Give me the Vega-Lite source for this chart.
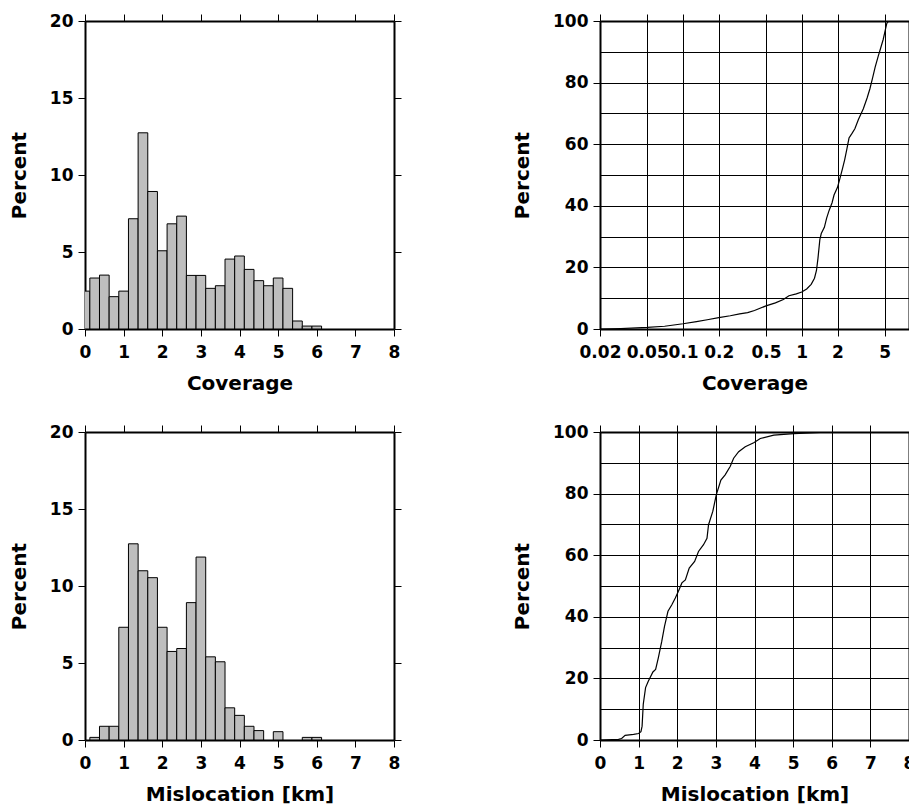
{
  "$schema": "https://vega.github.io/schema/vega-lite/v6.json",
  "background": "white",
  "padding": {"left": 9, "top": 12, "right": 0, "bottom": 0},
  "columns": 2,
  "spacing": {"row": 103, "column": 206},
  "bounds": "flush",
  "datasets": {
    "cov_hist": [
      {"lo": -0.125, "hi": 0.125, "pct": 2.46},
      {"lo": 0.125, "hi": 0.375, "pct": 3.31},
      {"lo": 0.375, "hi": 0.625, "pct": 3.5},
      {"lo": 0.625, "hi": 0.875, "pct": 2.1},
      {"lo": 0.875, "hi": 1.125, "pct": 2.46},
      {"lo": 1.125, "hi": 1.375, "pct": 7.16},
      {"lo": 1.375, "hi": 1.625, "pct": 12.74},
      {"lo": 1.625, "hi": 1.875, "pct": 8.93},
      {"lo": 1.875, "hi": 2.125, "pct": 5.08},
      {"lo": 2.125, "hi": 2.375, "pct": 6.83},
      {"lo": 2.375, "hi": 2.625, "pct": 7.33},
      {"lo": 2.625, "hi": 2.875, "pct": 3.48},
      {"lo": 2.875, "hi": 3.125, "pct": 3.48},
      {"lo": 3.125, "hi": 3.375, "pct": 2.64},
      {"lo": 3.375, "hi": 3.625, "pct": 2.81},
      {"lo": 3.625, "hi": 3.875, "pct": 4.54},
      {"lo": 3.875, "hi": 4.125, "pct": 4.74},
      {"lo": 4.125, "hi": 4.375, "pct": 3.87},
      {"lo": 4.375, "hi": 4.625, "pct": 3.14},
      {"lo": 4.625, "hi": 4.875, "pct": 2.81},
      {"lo": 4.875, "hi": 5.125, "pct": 3.31},
      {"lo": 5.125, "hi": 5.375, "pct": 2.64},
      {"lo": 5.375, "hi": 5.625, "pct": 0.52},
      {"lo": 5.625, "hi": 5.875, "pct": 0.19},
      {"lo": 5.875, "hi": 6.125, "pct": 0.19}
    ],
    "mis_hist": [
      {"lo": 0.125, "hi": 0.375, "pct": 0.17},
      {"lo": 0.375, "hi": 0.625, "pct": 0.89},
      {"lo": 0.625, "hi": 0.875, "pct": 0.89},
      {"lo": 0.875, "hi": 1.125, "pct": 7.32},
      {"lo": 1.125, "hi": 1.375, "pct": 12.74},
      {"lo": 1.375, "hi": 1.625, "pct": 10.99},
      {"lo": 1.625, "hi": 1.875, "pct": 10.54},
      {"lo": 1.875, "hi": 2.125, "pct": 7.32},
      {"lo": 2.125, "hi": 2.375, "pct": 5.75},
      {"lo": 2.375, "hi": 2.625, "pct": 5.94},
      {"lo": 2.625, "hi": 2.875, "pct": 8.92},
      {"lo": 2.875, "hi": 3.125, "pct": 11.88},
      {"lo": 3.125, "hi": 3.375, "pct": 5.4},
      {"lo": 3.375, "hi": 3.625, "pct": 5.08},
      {"lo": 3.625, "hi": 3.875, "pct": 2.09},
      {"lo": 3.875, "hi": 4.125, "pct": 1.6},
      {"lo": 4.125, "hi": 4.375, "pct": 0.89},
      {"lo": 4.375, "hi": 4.625, "pct": 0.61},
      {"lo": 4.875, "hi": 5.125, "pct": 0.54},
      {"lo": 5.625, "hi": 5.875, "pct": 0.17},
      {"lo": 5.875, "hi": 6.125, "pct": 0.17}
    ],
    "cov_cdf": [
      {"x": 0.02, "pct": 0}, {"x": 0.03, "pct": 0.15}, {"x": 0.05, "pct": 0.5}, {"x": 0.07, "pct": 0.9},
      {"x": 0.1, "pct": 1.7}, {"x": 0.13, "pct": 2.4}, {"x": 0.16, "pct": 3.0}, {"x": 0.2, "pct": 3.7},
      {"x": 0.25, "pct": 4.3}, {"x": 0.3, "pct": 4.9}, {"x": 0.35, "pct": 5.3}, {"x": 0.4, "pct": 6.0},
      {"x": 0.5, "pct": 7.5}, {"x": 0.6, "pct": 8.5}, {"x": 0.7, "pct": 9.6}, {"x": 0.78, "pct": 10.8},
      {"x": 0.9, "pct": 11.4}, {"x": 1.0, "pct": 12.0}, {"x": 1.1, "pct": 13.0}, {"x": 1.2, "pct": 14.5},
      {"x": 1.28, "pct": 16.5}, {"x": 1.33, "pct": 19}, {"x": 1.37, "pct": 23}, {"x": 1.42, "pct": 29},
      {"x": 1.46, "pct": 31}, {"x": 1.55, "pct": 33}, {"x": 1.62, "pct": 36}, {"x": 1.7, "pct": 38.5},
      {"x": 1.8, "pct": 41}, {"x": 1.87, "pct": 43.5}, {"x": 2.0, "pct": 46}, {"x": 2.1, "pct": 49},
      {"x": 2.2, "pct": 52}, {"x": 2.3, "pct": 55}, {"x": 2.4, "pct": 58.5}, {"x": 2.5, "pct": 62},
      {"x": 2.65, "pct": 63.5}, {"x": 2.8, "pct": 65}, {"x": 3.0, "pct": 68}, {"x": 3.3, "pct": 71.5},
      {"x": 3.55, "pct": 75}, {"x": 3.75, "pct": 78}, {"x": 3.95, "pct": 81.5}, {"x": 4.15, "pct": 85},
      {"x": 4.4, "pct": 88.5}, {"x": 4.6, "pct": 91}, {"x": 4.85, "pct": 94}, {"x": 5.05, "pct": 97},
      {"x": 5.2, "pct": 99.2}, {"x": 5.4, "pct": 100}, {"x": 6.1, "pct": 100}
    ],
    "mis_cdf": [
      {"x": 0, "pct": 0}, {"x": 0.48, "pct": 0.2}, {"x": 0.56, "pct": 0.5}, {"x": 0.65, "pct": 1.5},
      {"x": 0.87, "pct": 1.8}, {"x": 1.0, "pct": 2.1}, {"x": 1.06, "pct": 2.7}, {"x": 1.09, "pct": 4.5},
      {"x": 1.12, "pct": 11.6}, {"x": 1.18, "pct": 17}, {"x": 1.25, "pct": 19.1}, {"x": 1.37, "pct": 22.1},
      {"x": 1.44, "pct": 22.9}, {"x": 1.51, "pct": 26.7}, {"x": 1.6, "pct": 32.1}, {"x": 1.67, "pct": 36.9},
      {"x": 1.76, "pct": 41.8}, {"x": 1.86, "pct": 43.9}, {"x": 1.95, "pct": 46.1}, {"x": 2.03, "pct": 48.3},
      {"x": 2.12, "pct": 51}, {"x": 2.21, "pct": 52}, {"x": 2.31, "pct": 55.8}, {"x": 2.45, "pct": 58},
      {"x": 2.55, "pct": 61.2}, {"x": 2.68, "pct": 63.4}, {"x": 2.77, "pct": 65.5}, {"x": 2.81, "pct": 69.9},
      {"x": 2.92, "pct": 74.2}, {"x": 3.01, "pct": 79.6}, {"x": 3.13, "pct": 84.4}, {"x": 3.24, "pct": 86.1},
      {"x": 3.37, "pct": 88.8}, {"x": 3.46, "pct": 91.5}, {"x": 3.59, "pct": 93.6}, {"x": 3.76, "pct": 95.2},
      {"x": 3.98, "pct": 96.5}, {"x": 4.15, "pct": 97.9}, {"x": 4.5, "pct": 99}, {"x": 5.02, "pct": 99.5},
      {"x": 5.97, "pct": 100}
    ]
  },
  "concat": [
    {
      "width": 309, "height": 308,
      "data": {"name": "cov_hist"},
      "layer": [
        {
          "mark": {"type": "bar", "fill": "#bebebe", "stroke": "black", "strokeWidth": 1, "clip": true},
          "encoding": {
            "x": {"field": "lo", "type": "quantitative", "scale": {"domain": [0, 8], "nice": false, "zero": false},
                  "axis": {"orient": "bottom", "values": [0,1,2,3,4,5,6,7,8], "format": "d", "title": "Coverage"}},
            "x2": {"field": "hi"},
            "y": {"field": "pct", "type": "quantitative", "scale": {"domain": [0, 20], "nice": false},
                  "axis": {"orient": "left", "values": [0,5,10,15,20], "format": "d", "title": "Percent"}},
            "y2": {"datum": 0}
          }
        },
        {
          "mark": {"type": "bar", "opacity": 0},
          "encoding": {
            "x": {"field": "lo", "type": "quantitative", "axis": {"orient": "top", "values": [0,1,2,3,4,5,6,7,8], "labels": false, "title": null}},
            "x2": {"field": "hi"},
            "y": {"field": "pct", "type": "quantitative", "axis": {"orient": "right", "values": [0,5,10,15,20], "labels": false, "title": null}},
            "y2": {"datum": 0}
          }
        }
      ]
    },
    {
      "width": 309, "height": 308,
      "data": {"name": "cov_cdf"},
      "layer": [
        {
          "mark": {"type": "line", "color": "black", "strokeWidth": 1.2, "clip": true},
          "encoding": {
            "x": {"field": "x", "type": "quantitative", "scale": {"type": "log", "domain": [0.02, 8], "nice": false},
                  "axis": {"orient": "bottom", "values": [0.02,0.05,0.1,0.2,0.5,1,2,5], "format": "~g", "title": "Coverage"}},
            "y": {"field": "pct", "type": "quantitative", "scale": {"domain": [0, 100], "nice": false},
                  "axis": {"orient": "left", "values": [0,20,40,60,80,100], "format": "d", "title": "Percent"}}
          }
        },
        {
          "mark": {"type": "line", "opacity": 0},
          "encoding": {
            "x": {"field": "x", "type": "quantitative", "axis": {"orient": "top", "values": [0.02,0.05,0.1,0.2,0.5,1,2,5], "labels": false, "title": null, "grid": true}},
            "y": {"field": "pct", "type": "quantitative", "axis": {"orient": "right", "values": [0,10,20,30,40,50,60,70,80,90,100], "labels": false, "ticks": false, "title": null, "grid": true}}
          }
        }
      ]
    },
    {
      "width": 309, "height": 308,
      "data": {"name": "mis_hist"},
      "layer": [
        {
          "mark": {"type": "bar", "fill": "#bebebe", "stroke": "black", "strokeWidth": 1, "clip": true},
          "encoding": {
            "x": {"field": "lo", "type": "quantitative", "scale": {"domain": [0, 8], "nice": false, "zero": false},
                  "axis": {"orient": "bottom", "values": [0,1,2,3,4,5,6,7,8], "format": "d", "title": "Mislocation [km]"}},
            "x2": {"field": "hi"},
            "y": {"field": "pct", "type": "quantitative", "scale": {"domain": [0, 20], "nice": false},
                  "axis": {"orient": "left", "values": [0,5,10,15,20], "format": "d", "title": "Percent"}},
            "y2": {"datum": 0}
          }
        },
        {
          "mark": {"type": "bar", "opacity": 0},
          "encoding": {
            "x": {"field": "lo", "type": "quantitative", "axis": {"orient": "top", "values": [0,1,2,3,4,5,6,7,8], "labels": false, "title": null}},
            "x2": {"field": "hi"},
            "y": {"field": "pct", "type": "quantitative", "axis": {"orient": "right", "values": [0,5,10,15,20], "labels": false, "title": null}},
            "y2": {"datum": 0}
          }
        }
      ]
    },
    {
      "width": 309, "height": 308,
      "data": {"name": "mis_cdf"},
      "layer": [
        {
          "mark": {"type": "line", "color": "black", "strokeWidth": 1.2, "clip": true},
          "encoding": {
            "x": {"field": "x", "type": "quantitative", "scale": {"domain": [0, 8], "nice": false, "zero": false},
                  "axis": {"orient": "bottom", "values": [0,1,2,3,4,5,6,7,8], "format": "d", "title": "Mislocation [km]"}},
            "y": {"field": "pct", "type": "quantitative", "scale": {"domain": [0, 100], "nice": false},
                  "axis": {"orient": "left", "values": [0,20,40,60,80,100], "format": "d", "title": "Percent"}}
          }
        },
        {
          "mark": {"type": "line", "opacity": 0},
          "encoding": {
            "x": {"field": "x", "type": "quantitative", "axis": {"orient": "top", "values": [0,1,2,3,4,5,6,7,8], "labels": false, "title": null, "grid": true}},
            "y": {"field": "pct", "type": "quantitative", "axis": {"orient": "right", "values": [0,10,20,30,40,50,60,70,80,90,100], "labels": false, "ticks": false, "title": null, "grid": true}}
          }
        }
      ]
    }
  ],
  "config": {
    "view": {"stroke": null},
    "font": "DejaVu Sans",
    "axis": {
      "labelFont": "DejaVu Sans", "labelFontWeight": "bold", "labelFontSize": 17, "labelColor": "black",
      "labelPadding": 5, "labelFlush": false, "labelOverlap": false, "labelBound": false,
      "titleFont": "DejaVu Sans", "titleFontWeight": "bold", "titleFontSize": 20, "titleColor": "black",
      "titlePadding": 20,
      "domainColor": "black", "domainWidth": 2,
      "tickColor": "black", "tickWidth": 1, "tickSize": 7,
      "grid": false, "gridColor": "black", "gridWidth": 1, "gridOpacity": 1
    },
    "axisBottom": {"labelPadding": 8, "titlePadding": 13}
  }
}
